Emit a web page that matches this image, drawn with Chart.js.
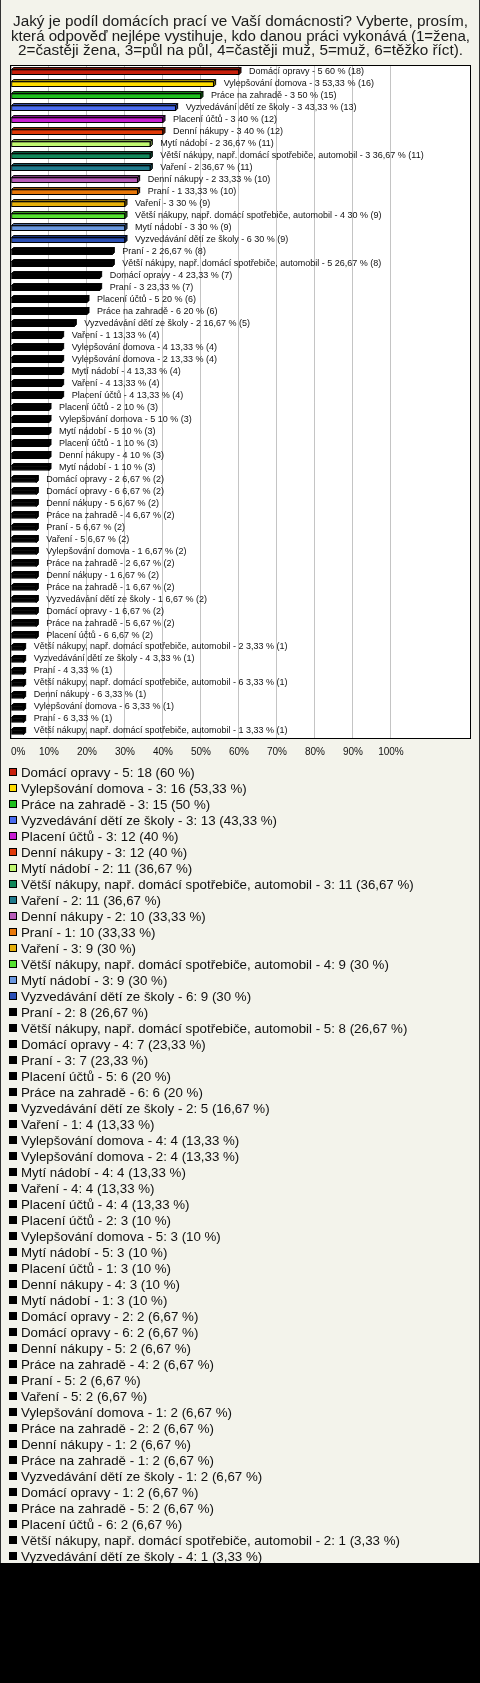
<!DOCTYPE html>
<html lang="cs">
  <head>
    <meta charset="UTF-8" />
    <title>Podíl domácích prací</title>
    <style>
      html,
      body {
        margin: 0;
        padding: 0;
        background: #000;
      }
      #panel {
        position: relative;
        width: 480px;
        height: 1563px;
        overflow: hidden;
        background: #f3f3eb;
        box-shadow: inset 1px 0 #333, inset -1px 0 #333;
      }
      #chart {
        display: block;
      }
      #legend {
        margin: -2px 0 0 0;
        padding: 0 0 0 9px;
        list-style: none;
        font: 13.3px "Liberation Sans", Arial, sans-serif;
        color: #111;
        white-space: nowrap;
      }
      #legend li {
        display: flex;
        align-items: center;
        height: 16px;
      }
      #legend .box {
        width: 6px;
        height: 6px;
        border: 1px solid #000;
        margin-right: 4px;
        flex: none;
      }
    </style>
  </head>
  <body>
    <div id="panel">
      <canvas id="chart" width="480" height="766"></canvas>
      <ul id="legend"></ul>
    </div>
    <script src="https://cdn.jsdelivr.net/npm/chart.js"></script>
    <script>
      // otázka (název grafu)
      const titleLines = [
        "Jaký je podíl domácích prací ve Vaší domácnosti? Vyberte, prosím,",
        "která odpověď nejlépe vystihuje, kdo danou práci vykonává (1=žena,",
        "2=častěji žena, 3=půl na půl, 4=častěji muž, 5=muž, 6=těžko říct).",
      ];

      // činnost, odpověď (1-6), procenta, počet odpovědí
      const V = "Větší nákupy, např. domácí spotřebiče, automobil";
      const Z = "Vyzvedávání dětí ze školy";
      const categories = [
        "Domácí opravy", "Vylepšování domova", "Práce na zahradě", Z,
        "Placení účtů", "Denní nákupy", "Mytí nádobí", V, "Vaření",
        "Denní nákupy", "Praní", "Vaření", V, "Mytí nádobí", Z,
        "Praní", V, "Domácí opravy", "Praní", "Placení účtů",
        "Práce na zahradě", Z, "Vaření", "Vylepšování domova",
        "Vylepšování domova", "Mytí nádobí", "Vaření", "Placení účtů",
        "Placení účtů", "Vylepšování domova", "Mytí nádobí", "Placení účtů",
        "Denní nákupy", "Mytí nádobí", "Domácí opravy", "Domácí opravy",
        "Denní nákupy", "Práce na zahradě", "Praní", "Vaření",
        "Vylepšování domova", "Práce na zahradě", "Denní nákupy",
        "Práce na zahradě", Z, "Domácí opravy", "Práce na zahradě",
        "Placení účtů", V, Z, "Praní", V, "Denní nákupy",
        "Vylepšování domova", "Praní", V,
      ];
      const answers = [
        5, 3, 3, 3, 3, 3, 2, 3, 2, 2, 1, 3, 4, 3, 6, 2, 5, 4, 3, 5, 6, 2, 1, 4,
        2, 4, 4, 4, 2, 5, 5, 1, 4, 1, 2, 6, 5, 4, 5, 5, 1, 2, 1, 1, 1, 1, 5, 6,
        2, 4, 4, 6, 6, 6, 6, 1,
      ];
      const percents = [
        60, 53.33, 50, 43.33, 40, 40, 36.67, 36.67, 36.67, 33.33, 33.33, 30, 30,
        30, 30, 26.67, 26.67, 23.33, 23.33, 20, 20, 16.67, 13.33, 13.33, 13.33,
        13.33, 13.33, 13.33, 10, 10, 10, 10, 10, 10, 6.67, 6.67, 6.67, 6.67,
        6.67, 6.67, 6.67, 6.67, 6.67, 6.67, 6.67, 6.67, 6.67, 6.67, 3.33, 3.33,
        3.33, 3.33, 3.33, 3.33, 3.33, 3.33,
      ];
      const counts = [
        18, 16, 15, 13, 12, 12, 11, 11, 11, 10, 10, 9, 9, 9, 9, 8, 8, 7, 7, 6, 6,
        5, 4, 4, 4, 4, 4, 4, 3, 3, 3, 3, 3, 3, 2, 2, 2, 2, 2, 2, 2, 2, 2, 2, 2,
        2, 2, 2, 1, 1, 1, 1, 1, 1, 1, 1,
      ];
      // popisky osy x (stupnice jde až ke 120,8 %, popsáno jen do 100 %)
      const tickValues = [0, 10, 20, 30, 40, 50, 60, 70, 80, 90, 100];
      const xMax = 120.8;

      // barvy prvních 15 sloupců, ostatní jsou černé
      const palette = [
        "#c8200c", "#ffdd00", "#1fbf1f", "#4a6cf0", "#c81ed2", "#e03a0a",
        "#c0f870", "#11875a", "#1f7a8c", "#b85cb8", "#e8780a", "#e6b00a",
        "#55e030", "#6a98e0", "#2a4fb5",
      ];
      const colors = categories.map((c, i) => palette[i] || "#000000");

      const fmt = (v) => String(v).replace(".", ",");
      const barLabels = categories.map(
        (c, i) => `${c} - ${answers[i]} ${fmt(percents[i])} % (${counts[i]})`
      );

      // ztmavení barvy pro horní a boční stěnu sloupce
      function shade(hex, f) {
        const n = parseInt(hex.slice(1), 16);
        const r = Math.round(((n >> 16) & 255) * f);
        const g = Math.round(((n >> 8) & 255) * f);
        const b = Math.round((n & 255) * f);
        return `rgb(${r},${g},${b})`;
      }

      // bílé pozadí a rámeček kolem grafu
      const plotBox = {
        id: "plotBox",
        beforeDraw(chart) {
          const { ctx, chartArea: a } = chart;
          ctx.save();
          ctx.fillStyle = "#fff";
          ctx.fillRect(a.left, a.top, a.right - a.left, a.bottom - a.top);
          ctx.restore();
        },
        afterDraw(chart) {
          const { ctx, chartArea: a } = chart;
          ctx.save();
          ctx.strokeStyle = "#000";
          ctx.lineWidth = 1;
          ctx.strokeRect(
            Math.round(a.left) - 0.5,
            Math.round(a.top) - 0.5,
            Math.round(a.right - a.left) + 1,
            Math.round(a.bottom - a.top) + 1
          );
          ctx.restore();
        },
      };

      // 3D vzhled sloupců a popisky za sloupci
      const bars3d = {
        id: "bars3d",
        afterDatasetsDraw(chart) {
          const { ctx } = chart;
          const d = 2;
          ctx.save();
          chart.getDatasetMeta(0).data.forEach((bar, i) => {
            const p = bar.getProps(["x", "y", "base", "height"], true);
            const left = p.base,
              right = p.x,
              top = p.y - p.height / 2,
              bottom = p.y + p.height / 2;
            ctx.lineWidth = 1;
            ctx.strokeStyle = "#000";
            // horní stěna
            ctx.beginPath();
            ctx.moveTo(left, top);
            ctx.lineTo(left + d, top - d);
            ctx.lineTo(right + d, top - d);
            ctx.lineTo(right, top);
            ctx.closePath();
            ctx.fillStyle = shade(colors[i], 0.7);
            ctx.fill();
            ctx.stroke();
            // boční stěna
            ctx.beginPath();
            ctx.moveTo(right, top);
            ctx.lineTo(right + d, top - d);
            ctx.lineTo(right + d, bottom - d);
            ctx.lineTo(right, bottom);
            ctx.closePath();
            ctx.fillStyle = shade(colors[i], 0.55);
            ctx.fill();
            ctx.stroke();
            // popisek
            ctx.fillStyle = "#111";
            ctx.font = '9px "Liberation Sans", Arial, sans-serif';
            ctx.textBaseline = "middle";
            ctx.fillText(barLabels[i], right + 10, p.y - 1);
          });
          ctx.restore();
        },
      };

      new Chart(document.getElementById("chart"), {
        type: "bar",
        data: {
          labels: categories,
          datasets: [
            {
              data: percents,
              backgroundColor: colors,
              borderColor: "#000",
              borderWidth: 1,
              borderSkipped: false,
              barThickness: 5,
            },
          ],
        },
        options: {
          indexAxis: "y",
          responsive: false,
          animation: false,
          layout: { padding: { left: 11, right: 10, top: 0, bottom: 0 } },
          scales: {
            x: {
              min: 0,
              max: xMax,
              afterBuildTicks: (s) => {
                s.ticks = tickValues.concat(xMax).map((v) => ({ value: v }));
              },
              grid: { color: "#c4c4c4", drawTicks: false },
              border: { display: false },
              ticks: {
                padding: 8,
                align: "inner",
                color: "#111",
                font: { family: "Liberation Sans", size: 10 },
                callback: (v) => (v > 100 ? "" : v + "%"),
              },
            },
            y: { display: false, grid: { display: false } },
          },
          plugins: {
            legend: { display: false },
            tooltip: { enabled: false },
            title: {
              display: true,
              text: titleLines,
              color: "#1a1a1a",
              font: {
                family: "Liberation Sans",
                size: 15.3,
                weight: "normal",
                lineHeight: 0.961,
              },
              padding: { top: 14.5, bottom: 7.5 },
            },
          },
        },
        plugins: [plotBox, bars3d],
      });

      // legenda pod grafem
      document.getElementById("legend").innerHTML = categories
        .map(
          (c, i) =>
            `<li><span class="box" style="background:${colors[i]}"></span>` +
            `${c} - ${answers[i]}: ${counts[i]} (${fmt(percents[i])} %)</li>`
        )
        .join("");
    </script>
  </body>
</html>
